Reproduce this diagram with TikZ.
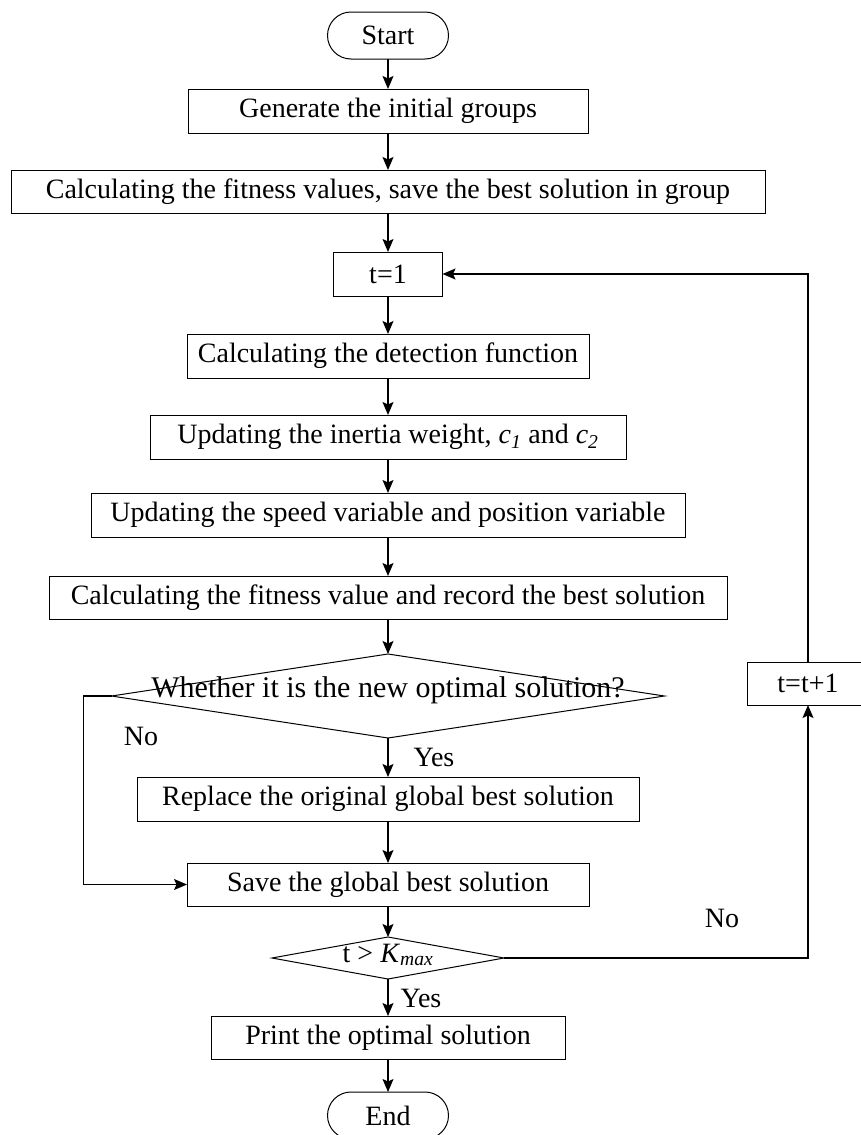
\documentclass[tikz,border=0pt]{standalone}
\usepackage{fontspec}
\setmainfont{Liberation Serif}
\usetikzlibrary{shapes.geometric,shapes.misc,arrows.meta}
\begin{document}
\begin{tikzpicture}[x=1pt,y=-1pt,
  every node/.style={font=\fontsize{28}{33}\selectfont, inner sep=0pt, outer sep=0pt},
  box/.style={draw, line width=1pt, rectangle, minimum height=44pt},
  term/.style={draw, line width=1pt, rounded rectangle, minimum width=121pt, minimum height=47pt},
  dia/.style={draw, line width=1pt, diamond},
  arr/.style={line width=1.3pt, -{Stealth[length=13pt,width=11pt,inset=2.5pt]}},
  lbl/.style={font=\fontsize{28}{33}\selectfont}]
\useasboundingbox (0,0) rectangle (861,1135);
\node[term] (start) at (388,35.5) {Start};
\node[box, minimum width=400pt] (gen) at (388,111) {Generate the initial groups};
\node[box, minimum width=754pt, minimum height=43pt] (fit) at (388,191.5) {Calculating the fitness values, save the best solution in group};
\node[box, minimum width=109pt] (t1) at (388,274) {t=1};
\node[box, minimum width=402pt] (det) at (388,356) {Calculating the detection function};
\node[box, minimum width=476pt] (iner) at (388,437) {Updating the inertia weight, \textit{c}\textsubscript{\textit{1}} and \textit{c}\textsubscript{\textit{2}}};
\node[box, minimum width=594pt] (spd) at (388,515) {Updating the speed variable and position variable};
\node[box, minimum width=678pt, minimum height=43pt] (fv) at (388,597.5) {Calculating the fitness value and record the best solution};
\node[dia, minimum width=553pt, minimum height=84pt] (d1) at (388,696) {};
\node[font=\fontsize{30}{36}\selectfont] (d1t) at (388,690) {Whether it is the new optimal solution?};
\node[box, minimum width=502pt] (rep) at (388,799) {Replace the original global best solution};
\node[box, minimum width=402pt, minimum height=43pt] (save) at (388,884.5) {Save the global best solution};
\node[dia, minimum width=232pt, minimum height=42pt] (d2) at (388,958) {};
\node (d2t) at (388,955) {t > \textit{K}\textsubscript{\textit{max}}};
\node[box, minimum width=354pt, minimum height=43pt] (prt) at (388,1037.5) {Print the optimal solution};
\node[term] (end) at (388,1115.5) {End};
\node[box, minimum width=122pt, minimum height=43pt] (inc) at (808,683.5) {t=t+1};
\node[lbl] (no1) at (141,736) {No};
\node[lbl] (yes1) at (434,757) {Yes};
\node[lbl] (no2) at (722,918) {No};
\node[lbl] (yes2) at (421,998) {Yes};
\draw[arr] (start.south) -- (gen.north);
\draw[arr] (gen.south) -- (fit.north);
\draw[arr] (fit.south) -- (t1.north);
\draw[arr] (t1.south) -- (det.north);
\draw[arr] (det.south) -- (iner.north);
\draw[arr] (iner.south) -- (spd.north);
\draw[arr] (spd.south) -- (fv.north);
\draw[arr] (fv.south) -- (d1.north);
\draw[arr] (d1.south) -- (rep.north);
\draw[arr] (rep.south) -- (save.north);
\draw[arr] (save.south) -- (d2.north);
\draw[arr] (d2.south) -- (prt.north);
\draw[arr] (prt.south) -- (end.north);
\draw[arr] (d1.west) -- ++(-28,0) |- (save.west);
\draw[arr] (d2.east) -| (inc.south);
\draw[arr] (inc.north) |- (t1.east);
\end{tikzpicture}
\end{document}
